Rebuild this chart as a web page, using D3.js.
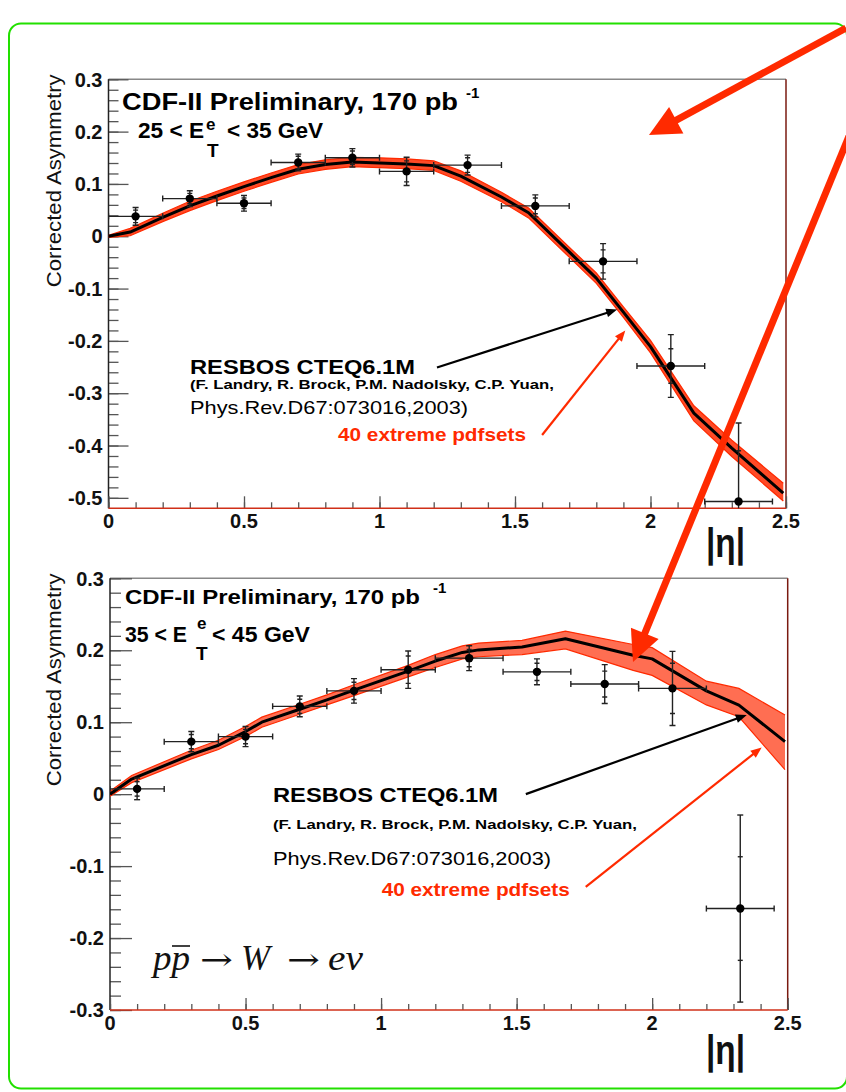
<!DOCTYPE html>
<html><head><meta charset="utf-8">
<script src="https://cdn.jsdelivr.net/npm/d3@7"></script>
<style>
html,body{margin:0;padding:0;background:#fff;}
svg{display:block;}
.sans{font-family:"Liberation Sans",Arial,sans-serif;}
.serif{font-family:"Liberation Serif","Times New Roman",serif;}
.arrowglyph{font-family:"DejaVu Serif","Liberation Serif",serif;}
</style></head>
<body>
<svg id="c" width="846" height="1092"></svg>
<script>
// ---------------- DATA ----------------
// bins in |eta|
const etaCenters = [0.10, 0.30, 0.50, 0.70, 0.90, 1.10, 1.325, 1.575, 1.825, 2.075, 2.325];
const etaLow     = [0.00, 0.20, 0.40, 0.60, 0.80, 1.00, 1.20, 1.45, 1.70, 1.95, 2.20];
const etaHigh    = [0.20, 0.40, 0.60, 0.80, 1.00, 1.20, 1.45, 1.70, 1.95, 2.20, 2.45];

// Panel 1: 25 < ET < 35 GeV
const asymTop     = [0.038, 0.072, 0.063, 0.141, 0.150, 0.124, 0.136, 0.058, -0.048, -0.248, -0.507];
const errTop      = [0.017, 0.015, 0.015, 0.016, 0.0175, 0.027, 0.019, 0.021, 0.034, 0.060, 0.150];
const statErrTop  = [0.012, 0.010, 0.010, 0.012, 0.013, 0.020, 0.014, 0.015, 0.022, 0.033, 0.097];

const curveEtaTop = [0, 0.08, 0.2, 0.3, 0.4, 0.5, 0.6, 0.7, 0.8, 0.9, 1.0, 1.1, 1.2, 1.3, 1.45, 1.55, 1.7, 1.8, 1.9, 2.0, 2.16, 2.3, 2.49];
const resbosTop   = [0, 0.008, 0.036, 0.058, 0.077, 0.095, 0.112, 0.128, 0.137, 0.142, 0.140, 0.138, 0.135, 0.115, 0.075, 0.045, -0.030, -0.080, -0.145, -0.211, -0.338, -0.405, -0.491];
const pdfHiTop    = [0.002, 0.015, 0.044, 0.067, 0.086, 0.104, 0.121, 0.137, 0.146, 0.151, 0.150, 0.148, 0.144, 0.125, 0.084, 0.054, -0.021, -0.070, -0.135, -0.199, -0.324, -0.390, -0.472];
const pdfLoTop    = [-0.002, 0.001, 0.028, 0.049, 0.068, 0.086, 0.103, 0.119, 0.128, 0.133, 0.131, 0.129, 0.126, 0.105, 0.066, 0.035, -0.040, -0.090, -0.155, -0.223, -0.353, -0.421, -0.506];

// Panel 2: 35 < ET < 45 GeV
const asymBot     = [0.0073, 0.073, 0.080, 0.122, 0.1435, 0.173, 0.189, 0.170, 0.153, 0.147, -0.159];
const errBot      = [0.015, 0.014, 0.014, 0.0145, 0.017, 0.026, 0.0173, 0.018, 0.027, 0.0515, 0.130];
const statErrBot  = [0.010, 0.010, 0.010, 0.010, 0.012, 0.019, 0.012, 0.012, 0.018, 0.035, 0.072];

const curveEtaBot = [0, 0.08, 0.3, 0.4, 0.5, 0.56, 0.7, 0.8, 0.9, 1.1, 1.2, 1.3, 1.36, 1.52, 1.68, 1.93, 2.0, 2.2, 2.32, 2.49];
const resbosBot   = [0, 0.021, 0.055, 0.068, 0.087, 0.100, 0.118, 0.131, 0.1445, 0.171, 0.185, 0.197, 0.2005, 0.2045, 0.216, 0.193, 0.188, 0.1435, 0.1237, 0.073];
const pdfHiBot    = [0.004, 0.026, 0.061, 0.075, 0.094, 0.107, 0.125, 0.138, 0.152, 0.179, 0.194, 0.206, 0.210, 0.2137, 0.2266, 0.208, 0.2036, 0.157, 0.147, 0.110];
const pdfLoBot    = [-0.003, 0.016, 0.049, 0.062, 0.080, 0.093, 0.111, 0.124, 0.137, 0.163, 0.176, 0.188, 0.191, 0.194, 0.202, 0.172, 0.165, 0.124, 0.1075, 0.034];

const xTickLabels = ["0", "0.5", "1", "1.5", "2", "2.5"];
const yTickLabelsTop = ["-0.5", "-0.4", "-0.3", "-0.2", "-0.1", "0", "0.1", "0.2", "0.3"];
const yTickLabelsBot = ["-0.3", "-0.2", "-0.1", "0", "0.1", "0.2", "0.3"];

// ---------------- DRAW ----------------
const svg = d3.select("#c");
const RED = "#ff2a00";

// green rounded frame
svg.append("rect").attr("x", 9).attr("y", 23.5).attr("width", 838).attr("height", 1065)
  .attr("rx", 12).attr("fill", "none").attr("stroke", "#22e000").attr("stroke-width", 2);

function panel(cfg) {
  const x = d3.scaleLinear().domain([0, 2.5]).range([cfg.x0, cfg.x1]);
  const y = d3.scaleLinear().domain(cfg.ydom).range([cfg.yb, cfg.yt]);
  const g = svg.append("g").attr("class", "sans");
  const clipId = "clip" + cfg.id;
  svg.append("clipPath").attr("id", clipId).append("rect")
    .attr("x", cfg.x0).attr("y", cfg.yt).attr("width", cfg.x1 - cfg.x0).attr("height", cfg.yb - cfg.yt);

  // frame: top (gray), right (dark red)
  g.append("line").attr("x1", cfg.x0).attr("x2", cfg.x1).attr("y1", cfg.yt).attr("y2", cfg.yt)
    .attr("stroke", "#888").attr("stroke-width", 1.5);
  g.append("line").attr("x1", cfg.x1).attr("x2", cfg.x1).attr("y1", cfg.yt).attr("y2", cfg.yb)
    .attr("stroke", "#7a1a10").attr("stroke-width", 1.5);

  // y axis (ticks inside)
  const yMajor = cfg.yTickLabels.map(Number);
  const yMinor = d3.range(Math.round(cfg.ydom[0] * 50), Math.round(cfg.ydom[1] * 50) + 1).map(v => v / 50)
    .filter(v => v >= yMajor[0] - 1e-9);
  const yAx = d3.axisRight(y).tickValues(yMinor).tickSize(cfg.ytMinor).tickFormat("");
  g.append("g").attr("transform", `translate(${cfg.x0},0)`).call(yAx)
    .call(s => s.select(".domain").remove())
    .call(s => s.selectAll("line").attr("stroke", "#555").attr("stroke-width", 1.3));
  const yAxM = d3.axisRight(y).tickValues(yMajor).tickSize(cfg.ytMajor).tickFormat("");
  g.append("g").attr("transform", `translate(${cfg.x0},0)`).call(yAxM)
    .call(s => s.select(".domain").remove())
    .call(s => s.selectAll("line").attr("stroke", "#555").attr("stroke-width", 1.3));
  g.append("line").attr("x1", cfg.x0).attr("x2", cfg.x0).attr("y1", cfg.yt).attr("y2", cfg.yb)
    .attr("stroke", "#222").attr("stroke-width", 1.5);
  g.selectAll("text.ytl").data(cfg.yTickLabels).join("text").attr("class", "ytl")
    .attr("x", cfg.x0 - 6).attr("y", d => y(+d)).attr("dy", "0.36em")
    .attr("text-anchor", "end").attr("font-size", 20).attr("font-weight", "bold").attr("fill", "#111")
    .text(d => d);

  // x axis (ticks inside, upward)
  const xMinor = d3.range(0, 26).map(v => v / 10);
  const xAx = d3.axisTop(x).tickValues(xMinor).tickSize(6).tickFormat("");
  g.append("g").attr("transform", `translate(0,${cfg.yb})`).call(xAx)
    .call(s => s.select(".domain").remove())
    .call(s => s.selectAll("line").attr("stroke", "#555").attr("stroke-width", 1.3));
  const xAxM = d3.axisTop(x).tickValues(xTickLabels.map(Number)).tickSize(12).tickFormat("");
  g.append("g").attr("transform", `translate(0,${cfg.yb})`).call(xAxM)
    .call(s => s.select(".domain").remove())
    .call(s => s.selectAll("line").attr("stroke", "#555").attr("stroke-width", 1.3));
  g.append("line").attr("x1", cfg.x0).attr("x2", cfg.x1).attr("y1", cfg.yb).attr("y2", cfg.yb)
    .attr("stroke", "#d03018").attr("stroke-width", 1.6);
  g.selectAll("text.xtl").data(xTickLabels).join("text").attr("class", "xtl")
    .attr("x", d => x(+d)).attr("y", cfg.yb + 20)
    .attr("text-anchor", "middle").attr("font-size", 20).attr("font-weight", "bold").attr("fill", "#111")
    .text(d => d);

  // axis titles
  g.append("text").attr("transform", `translate(61,${cfg.yt - 5}) rotate(-90)`)
    .attr("text-anchor", "end").attr("font-size", 19.5).attr("fill", "#111")
    .attr("textLength", 213).attr("lengthAdjust", "spacingAndGlyphs")
    .text("Corrected Asymmetry");
  g.append("text").attr("x", 706).attr("y", cfg.etaBase).attr("font-size", 40).attr("font-weight", "bold").attr("fill", "#111")
    .attr("textLength", 39).attr("lengthAdjust", "spacingAndGlyphs").text("|η|");

  // pdf band
  const cg = g.append("g").attr("clip-path", `url(#${clipId})`);
  const idx = d3.range(cfg.curveEta.length);
  cg.append("path").datum(idx)
    .attr("d", d3.area().x(i => x(cfg.curveEta[i])).y0(i => y(cfg.pdfLo[i])).y1(i => y(cfg.pdfHi[i])))
    .attr("fill", RED).attr("fill-opacity", cfg.bandOpacity).attr("stroke", "none");
  [cfg.pdfHi, cfg.pdfLo].forEach(arr => {
    cg.append("path").datum(idx)
      .attr("d", d3.line().x(i => x(cfg.curveEta[i])).y(i => y(arr[i])))
      .attr("fill", "none").attr("stroke", RED).attr("stroke-width", 1.2);
  });
  // central RESBOS curve
  cg.append("path").datum(idx)
    .attr("d", d3.line().x(i => x(cfg.curveEta[i])).y(i => y(cfg.resbos[i])))
    .attr("fill", "none").attr("stroke", "#000").attr("stroke-width", 3).attr("stroke-linejoin", "round");

  // data points
  const dg = g.append("g").attr("clip-path", `url(#${clipId})`).attr("stroke", "#222").attr("stroke-width", 1.4);
  etaCenters.forEach((c, i) => {
    const v = cfg.asym[i], e = cfg.err[i], s = cfg.stat[i];
    const px = x(c), py = y(v);
    dg.append("line").attr("x1", x(etaLow[i])).attr("x2", x(etaHigh[i])).attr("y1", py).attr("y2", py);
    dg.append("line").attr("x1", x(etaLow[i])).attr("x2", x(etaLow[i])).attr("y1", py - 3).attr("y2", py + 3);
    dg.append("line").attr("x1", x(etaHigh[i])).attr("x2", x(etaHigh[i])).attr("y1", py - 3).attr("y2", py + 3);
    dg.append("line").attr("x1", px).attr("x2", px).attr("y1", y(v - e)).attr("y2", y(v + e));
    [v - e, v + e].forEach(t => dg.append("line").attr("x1", px - 3).attr("x2", px + 3).attr("y1", y(t)).attr("y2", y(t)));
    [v - s, v + s].forEach(t => dg.append("line").attr("x1", px - 2.5).attr("x2", px + 2.5).attr("y1", y(t)).attr("y2", y(t)));
    dg.append("circle").attr("cx", px).attr("cy", py).attr("r", 4.2).attr("fill", "#000").attr("stroke", "none");
  });

  // annotation arrows (data coords)
  function arrow(a, b, color, w, head) {
    const x1 = x(a[0]), y1 = y(a[1]), x2 = x(b[0]), y2 = y(b[1]);
    const L = Math.hypot(x2 - x1, y2 - y1), ux = (x2 - x1) / L, uy = (y2 - y1) / L;
    g.append("line").attr("x1", x1).attr("y1", y1).attr("x2", x2 - ux * head * 0.8).attr("y2", y2 - uy * head * 0.8)
      .attr("stroke", color).attr("stroke-width", w);
    const bx = x2 - ux * head, by = y2 - uy * head, hw = head * 0.4;
    g.append("path").attr("d", `M${x2},${y2}L${bx - uy * hw},${by + ux * hw}L${bx + uy * hw},${by - ux * hw}Z`)
      .attr("fill", color);
  }
  arrow(cfg.blackArrow[0], cfg.blackArrow[1], "#000", 2.2, 11);
  arrow(cfg.redArrow[0], cfg.redArrow[1], RED, 2.2, 11);

  // texts
  const T = cfg.texts;
  g.append("text").attr("x", T.cdf[0]).attr("y", T.cdf[1]).attr("font-size", T.cdf[3]).attr("font-weight", "bold")
    .attr("textLength", T.cdf[2]).attr("lengthAdjust", "spacingAndGlyphs").attr("fill", "#000")
    .text("CDF-II Preliminary, 170 pb");
  g.append("text").attr("x", T.inv[0]).attr("y", T.inv[1]).attr("font-size", 15).attr("font-weight", "bold").attr("fill", "#000").text("-1");
  g.append("text").attr("x", T.et[0]).attr("y", T.et[1]).attr("font-size", 22).attr("font-weight", "bold")
    .attr("textLength", T.et[2]).attr("lengthAdjust", "spacingAndGlyphs").text(cfg.etLeft);
  g.append("text").attr("x", T.sup[0]).attr("y", T.sup[1]).attr("font-size", 17).attr("font-weight", "bold").text("e");
  g.append("text").attr("x", T.sub[0]).attr("y", T.sub[1]).attr("font-size", 19).attr("font-weight", "bold").text("T");
  g.append("text").attr("x", T.et2[0]).attr("y", T.et2[1]).attr("font-size", 22).attr("font-weight", "bold")
    .attr("textLength", T.et2[2]).attr("lengthAdjust", "spacingAndGlyphs").text(cfg.etRight);
  g.append("text").attr("x", T.res[0]).attr("y", T.res[1]).attr("font-size", 20.5).attr("font-weight", "bold")
    .attr("textLength", 225).attr("lengthAdjust", "spacingAndGlyphs").text("RESBOS CTEQ6.1M");
  g.append("text").attr("x", T.auth[0]).attr("y", T.auth[1]).attr("font-size", 12.5).attr("font-weight", "bold")
    .attr("textLength", 364).attr("lengthAdjust", "spacingAndGlyphs").text("(F. Landry, R. Brock, P.M. Nadolsky, C.P. Yuan,");
  g.append("text").attr("x", T.phys[0]).attr("y", T.phys[1]).attr("font-size", 19)
    .attr("textLength", 278).attr("lengthAdjust", "spacingAndGlyphs").text("Phys.Rev.D67:073016,2003)");
  g.append("text").attr("x", T.pdf[0]).attr("y", T.pdf[1]).attr("font-size", 18.5).attr("font-weight", "bold").attr("fill", RED)
    .attr("textLength", 188).attr("lengthAdjust", "spacingAndGlyphs").text("40 extreme pdfsets");
  return { x, y, g };
}

panel({
  id: "top", x0: 108.5, x1: 786, yb: 508.3, yt: 79.3, ydom: [-0.52, 0.3],
  ytMajor: 20, ytMinor: 10, yTickLabels: yTickLabelsTop, etaBase: 557,
  curveEta: curveEtaTop, resbos: resbosTop, pdfHi: pdfHiTop, pdfLo: pdfLoTop, bandOpacity: 0.85,
  asym: asymTop, err: errTop, stat: statErrTop,
  blackArrow: [[1.212, -0.251], [1.877, -0.140]],
  redArrow: [[1.600, -0.380], [1.907, -0.180]],
  etLeft: "25 < E", etRight: "< 35 GeV",
  texts: {
    cdf: [122, 110, 336, 23], inv: [466, 98],
    et: [138, 138, 66], sup: [206, 130], sub: [207, 157], et2: [227, 138, 96],
    res: [190, 373.5], auth: [190, 388.5], phys: [190, 414], pdf: [338, 441]
  }
});

panel({
  id: "bot", x0: 110, x1: 787.7, yb: 1010, yt: 578.3, ydom: [-0.3, 0.3],
  ytMajor: 22, ytMinor: 11, yTickLabels: yTickLabelsBot, etaBase: 1064,
  curveEta: curveEtaBot, resbos: resbosBot, pdfHi: pdfHiBot, pdfLo: pdfLoBot, bandOpacity: 0.68,
  asym: asymBot, err: errBot, stat: statErrBot,
  blackArrow: [[1.534, 0.0], [2.349, 0.110]],
  redArrow: [[1.755, -0.129], [2.404, 0.065]],
  etLeft: "35 < E", etRight: "< 45 GeV",
  texts: {
    cdf: [125, 604, 295, 21], inv: [433, 593],
    et: [125, 642, 62], sup: [197, 629], sub: [196, 660], et2: [212, 642, 98],
    res: [273, 802], auth: [273, 829], phys: [273, 865], pdf: [381.7, 896]
  }
});

// process label: p p̄ → W → e ν
const pg = svg.append("g").attr("fill", "#111");
pg.append("text").attr("class", "serif").attr("x", 153).attr("y", 970).attr("font-size", 35)
  .attr("font-style", "italic").attr("textLength", 37).attr("lengthAdjust", "spacingAndGlyphs").text("pp");
pg.append("line").attr("x1", 172).attr("x2", 190).attr("y1", 946).attr("y2", 946).attr("stroke", "#111").attr("stroke-width", 1.6);
pg.append("text").attr("class", "arrowglyph").attr("x", 200).attr("y", 970).attr("font-size", 30)
  .attr("textLength", 33).attr("lengthAdjust", "spacingAndGlyphs").text("→");
pg.append("text").attr("class", "serif").attr("x", 241).attr("y", 970).attr("font-size", 35)
  .attr("font-style", "italic").attr("textLength", 29).attr("lengthAdjust", "spacingAndGlyphs").text("W");
pg.append("text").attr("class", "arrowglyph").attr("x", 287).attr("y", 970).attr("font-size", 30)
  .attr("textLength", 33).attr("lengthAdjust", "spacingAndGlyphs").text("→");
pg.append("text").attr("class", "serif").attr("x", 328).attr("y", 970).attr("font-size", 35)
  .attr("font-style", "italic").attr("textLength", 35).attr("lengthAdjust", "spacingAndGlyphs").text("eν");

// large red pointer arrows (annotation overlay)
function bigArrow(x1, y1, x2, y2, len, hw) {
  const L = Math.hypot(x2 - x1, y2 - y1), ux = (x2 - x1) / L, uy = (y2 - y1) / L;
  const bx = x2 - ux * len, by = y2 - uy * len;
  svg.append("line").attr("x1", x1).attr("y1", y1).attr("x2", bx + ux * 2).attr("y2", by + uy * 2)
    .attr("stroke", "#ff2a00").attr("stroke-width", 7);
  svg.append("path").attr("d", `M${x2},${y2}L${bx - uy * hw},${by + ux * hw}L${bx + uy * hw},${by - ux * hw}Z`)
    .attr("fill", "#ff2a00");
}
bigArrow(846, 28, 649, 135, 31, 15);
bigArrow(909, -10, 633, 662, 31, 15);
</script>
</body></html>
